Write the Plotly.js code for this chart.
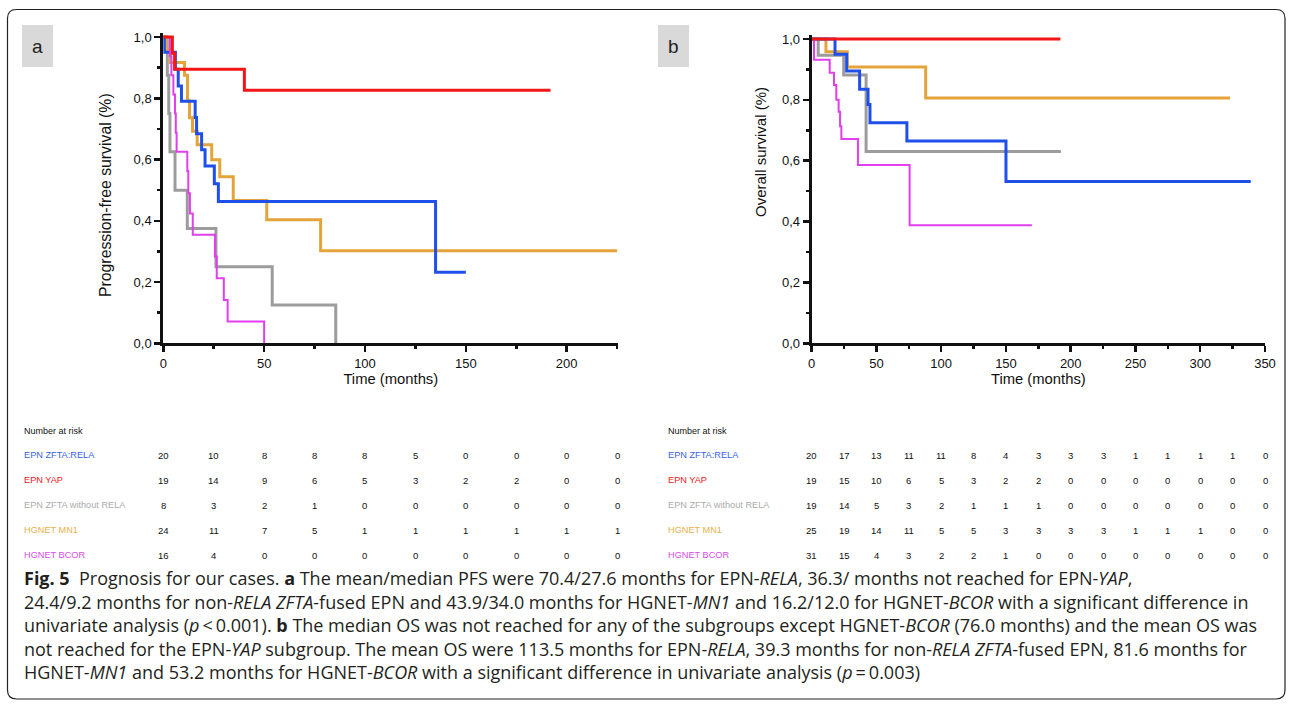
<!DOCTYPE html>
<html>
<head>
<meta charset="utf-8">
<script src="https://cdn.plot.ly/plotly-3.0.1.min.js"></script>
<style>html,body{margin:0;padding:0;background:#fff;}#chart{width:1292px;height:706px;}</style>
</head>
<body>
<div id="chart"></div>
<script>
// ---------- DATA ----------
const groupNames = ["EPN ZFTA:RELA", "EPN YAP", "EPN ZFTA without RELA", "HGNET MN1", "HGNET BCOR"];

// Panel a: progression-free survival (months, survival fraction)
const pfsTimeRELA = [0, 0.5, 6, 7.4, 9, 15.8, 16.5, 19, 20.7, 25.3, 27.3, 135, 150];
const pfsSurvRELA = [1, 0.95, 0.895, 0.84, 0.79, 0.737, 0.684, 0.632, 0.579, 0.521, 0.463, 0.232, 0.232];
const pfsTimeYAP = [0, 4.5, 5.6, 40.2, 192];
const pfsSurvYAP = [1, 0.947, 0.895, 0.826, 0.826];
const pfsTimeZFTA = [0, 2.0, 2.7, 3.3, 5.8, 11.9, 26.1, 54, 85.5];
const pfsSurvZFTA = [1, 0.875, 0.75, 0.625, 0.5, 0.375, 0.25, 0.125, 0];
const pfsTimeMN1 = [0, 1.5, 3.5, 10.5, 12, 13, 14.5, 16.8, 24, 28, 34.7, 51.3, 78, 225];
const pfsSurvMN1 = [1, 0.958, 0.917, 0.875, 0.792, 0.736, 0.692, 0.648, 0.599, 0.544, 0.466, 0.403, 0.302, 0.302];
const pfsTimeBCOR = [0, 3.3, 4, 5, 5.8, 6.2, 6.6, 11.9, 12.4, 13.2, 14.6, 25.6, 26.5, 30, 31.9, 50];
const pfsSurvBCOR = [1, 0.9375, 0.875, 0.8125, 0.75, 0.6875, 0.625, 0.5625, 0.49, 0.424, 0.354, 0.283, 0.212, 0.141, 0.071, 0];

// Panel b: overall survival
const osTimeRELA = [0, 18, 27, 37, 43.5, 45, 73.5, 150, 339];
const osSurvRELA = [1, 0.95, 0.895, 0.835, 0.785, 0.725, 0.665, 0.532, 0.532];
const osTimeYAP = [0, 192];
const osSurvYAP = [1, 1];
const osTimeZFTA = [0, 5, 24.7, 42, 192.4];
const osSurvZFTA = [1, 0.947, 0.882, 0.63, 0.63];
const osTimeMN1 = [0, 11, 27.5, 88, 323];
const osSurvMN1 = [1, 0.958, 0.908, 0.806, 0.806];
const osTimeBCOR = [0, 1.8, 13.9, 17.2, 19, 20.8, 21.9, 22.9, 35.7, 75.6, 170];
const osSurvBCOR = [1, 0.932, 0.889, 0.849, 0.80, 0.761, 0.713, 0.671, 0.586, 0.388, 0.388];

// Number at risk
const riskTimesPFS = [0, 25, 50, 75, 100, 125, 150, 175, 200, 225];
const riskPFS_RELA = [20, 10, 8, 8, 8, 5, 0, 0, 0, 0];
const riskPFS_YAP  = [19, 14, 9, 6, 5, 3, 2, 2, 0, 0];
const riskPFS_ZFTA = [8, 3, 2, 1, 0, 0, 0, 0, 0, 0];
const riskPFS_MN1  = [24, 11, 7, 5, 1, 1, 1, 1, 1, 1];
const riskPFS_BCOR = [16, 4, 0, 0, 0, 0, 0, 0, 0, 0];

const riskTimesOS = [0, 25, 50, 75, 100, 125, 150, 175, 200, 225, 250, 275, 300, 325, 350];
const riskOS_RELA = [20, 17, 13, 11, 11, 8, 4, 3, 3, 3, 1, 1, 1, 1, 0];
const riskOS_YAP  = [19, 15, 10, 6, 5, 3, 2, 2, 0, 0, 0, 0, 0, 0, 0];
const riskOS_ZFTA = [19, 14, 5, 3, 2, 1, 1, 1, 0, 0, 0, 0, 0, 0, 0];
const riskOS_MN1  = [25, 19, 14, 11, 5, 5, 3, 3, 3, 3, 1, 1, 1, 0, 0];
const riskOS_BCOR = [31, 15, 4, 3, 2, 2, 1, 0, 0, 0, 0, 0, 0, 0, 0];

const captionLines = [
  "<b>Fig. 5</b>&nbsp; Prognosis for our cases. <b>a</b> The mean/median PFS were 70.4/27.6 months for EPN-<i>RELA</i>, 36.3/ months not reached for EPN-<i>YAP</i>,",
  "24.4/9.2 months for non-<i>RELA ZFTA</i>-fused EPN and 43.9/34.0 months for HGNET-<i>MN1</i> and 16.2/12.0 for HGNET-<i>BCOR</i> with a significant difference in",
  "univariate analysis (<i>p</i>&#8201;&lt;&#8201;0.001). <b>b</b> The median OS was not reached for any of the subgroups except HGNET-<i>BCOR</i> (76.0 months) and the mean OS was",
  "not reached for the EPN-<i>YAP</i> subgroup. The mean OS were 113.5 months for EPN-<i>RELA</i>, 39.3 months for non-<i>RELA ZFTA</i>-fused EPN, 81.6 months for",
  "HGNET-<i>MN1</i> and 53.2 months for HGNET-<i>BCOR</i> with a significant difference in univariate analysis (<i>p</i>&#8201;=&#8201;0.003)"
];

// ---------- STYLE ----------
const W = 1292, H = 706;
const px = x => x / W;
const py = y => 1 - y / H;
const lineColors = ["#1f4fea", "#f21616", "#9c9c9c", "#e5a43a", "#e23ef0"];
const labelColors = ["#3462ea", "#ee2020", "#ababab", "#e9b04a", "#d94cec"];
const lineWidths = [3, 3, 3, 3, 2];
const axFamily = "Liberation Sans, Arial, sans-serif";
const axFont = {family: axFamily, size: 13, color: "#111"};
const tblFont = "Liberation Sans, Arial, sans-serif";
const yTop = 1.012; // small headroom so lines at 1.0 are not clipped

const pfsSeries = [[pfsTimeRELA, pfsSurvRELA], [pfsTimeYAP, pfsSurvYAP], [pfsTimeZFTA, pfsSurvZFTA], [pfsTimeMN1, pfsSurvMN1], [pfsTimeBCOR, pfsSurvBCOR]];
const osSeries = [[osTimeRELA, osSurvRELA], [osTimeYAP, osSurvYAP], [osTimeZFTA, osSurvZFTA], [osTimeMN1, osSurvMN1], [osTimeBCOR, osSurvBCOR]];
const riskPFS = [riskPFS_RELA, riskPFS_YAP, riskPFS_ZFTA, riskPFS_MN1, riskPFS_BCOR];
const riskOS = [riskOS_RELA, riskOS_YAP, riskOS_ZFTA, riskOS_MN1, riskOS_BCOR];

const drawOrder = [2, 3, 0, 4, 1];
const traces = [];
drawOrder.forEach(i => {
  traces.push({x: pfsSeries[i][0], y: pfsSeries[i][1], type: "scatter", mode: "lines", name: groupNames[i],
    line: {shape: "hv", color: lineColors[i], width: lineWidths[i]}, xaxis: "x", yaxis: "y",
    hoverinfo: "skip", showlegend: false});
});
drawOrder.forEach(i => {
  traces.push({x: osSeries[i][0], y: osSeries[i][1], type: "scatter", mode: "lines", name: groupNames[i],
    line: {shape: "hv", color: lineColors[i], width: lineWidths[i]}, xaxis: "x2", yaxis: "y2",
    hoverinfo: "skip", showlegend: false});
});

function xAxis(domain, range, anchor) {
  return {
    domain: domain, range: range, anchor: anchor, showline: true, linewidth: 3, linecolor: "#111",
    ticks: "outside", tick0: 0, dtick: 50, ticklen: 6, tickwidth: 2.5, tickcolor: "#111",
    minor: {ticks: "outside", dtick: 25, ticklen: 3, tickwidth: 2.5, tickcolor: "#111", showgrid: false},
    showgrid: false, zeroline: false, tickfont: axFont, fixedrange: true,
    title: {text: "Time (months)", font: {family: axFamily, size: 14.8, color: "#111"}, standoff: 4}
  };
}
function yAxis(domain, anchor) {
  return {
    domain: domain, range: [0, yTop], anchor: anchor, showline: true, linewidth: 3, linecolor: "#111",
    ticks: "outside", tick0: 0, dtick: 0.2, ticklen: 6, tickwidth: 2.5, tickcolor: "#111", tickformat: ".1f",
    minor: {ticks: "outside", dtick: 0.1, ticklen: 3, tickwidth: 2.5, tickcolor: "#111", showgrid: false},
    showgrid: false, zeroline: false, tickfont: axFont, fixedrange: true
  };
}

const annotations = [];
const shapes = [];

// y-axis titles
annotations.push({text: "Progression-free survival (%)", xref: "paper", yref: "paper", x: px(106), y: py(195),
  xanchor: "center", yanchor: "middle", textangle: -90, showarrow: false,
  font: {family: axFamily, size: 15.8, color: "#111"}});
annotations.push({text: "Overall survival (%)", xref: "paper", yref: "paper", x: px(760), y: py(152),
  xanchor: "center", yanchor: "middle", textangle: -90, showarrow: false,
  font: {family: axFamily, size: 15, color: "#111"}});

// panel labels
[[22, "a"], [658, "b"]].forEach(([x0, lab]) => {
  shapes.push({type: "rect", xref: "paper", yref: "paper", x0: px(x0), x1: px(x0 + 31), y0: py(67), y1: py(25),
    fillcolor: "#d9d9d9", line: {width: 0}, layer: "below"});
  annotations.push({text: lab, xref: "paper", yref: "paper", x: px(x0 + 15.5), y: py(46), xanchor: "center", yanchor: "middle",
    showarrow: false, font: {family: axFamily, size: 19, color: "#222"}});
});

// number at risk tables
const headerY = 431;
const rowY = [455, 480, 505, 530, 555];
function addTable(labelX, xref, times, risk) {
  annotations.push({text: "Number at risk", xref: "paper", yref: "paper", x: px(labelX), y: py(headerY),
    xanchor: "left", yanchor: "middle", showarrow: false, font: {family: tblFont, size: 9, color: "#111"}});
  groupNames.forEach((g, r) => {
    annotations.push({text: g, xref: "paper", yref: "paper", x: px(labelX), y: py(rowY[r]),
      xanchor: "left", yanchor: "middle", showarrow: false, font: {family: tblFont, size: 9.2, color: labelColors[r]}});
    risk[r].forEach((v, c) => {
      annotations.push({text: String(v), xref: xref, yref: "paper", x: times[c], y: py(rowY[r]),
        xanchor: "center", yanchor: "middle", showarrow: false, font: {family: tblFont, size: 9.5, color: "#111"}});
    });
  });
}
addTable(22, "x", riskTimesPFS, riskPFS);
addTable(666, "x2", riskTimesOS, riskOS);

// caption
const capY = [578, 601.5, 625, 648.5, 672];
captionLines.forEach((t, i) => {
  annotations.push({text: t, xref: "paper", yref: "paper", x: px(22), y: py(capY[i]), xanchor: "left", yanchor: "middle",
    showarrow: false, align: "left", font: {family: "Open Sans, Noto Sans, sans-serif", size: 18, color: "#231f20"}});
});

// outer rounded frame
(function () {
  const l = 7.5, t = 9.5, r = 1285, b = 699, rad = 9;
  const P = (x, y) => px(x) + "," + py(y);
  const d = "M" + P(l + rad, t) + " L" + P(r - rad, t) + " Q" + P(r, t) + " " + P(r, t + rad) +
    " L" + P(r, b - rad) + " Q" + P(r, b) + " " + P(r - rad, b) + " L" + P(l + rad, b) +
    " Q" + P(l, b) + " " + P(l, b - rad) + " L" + P(l, t + rad) + " Q" + P(l, t) + " " + P(l + rad, t) + " Z";
  shapes.push({type: "path", xref: "paper", yref: "paper", path: d, line: {color: "#222", width: 1.2}, fillcolor: "rgba(0,0,0,0)", layer: "below"});
})();

// plot boxes: y=1.0 lies at these pixel rows; domain top extended for headroom
const aTop = 37, bTop = 39, bottom = 343.3;
const aScale = (bottom - aTop), bScale = (bottom - bTop);

const layout = {
  width: W, height: H, margin: {l: 0, r: 0, t: 0, b: 0},
  paper_bgcolor: "#fff", plot_bgcolor: "rgba(0,0,0,0)", separators: ",.", showlegend: false,
  xaxis: xAxis([px(163.3), px(618.3)], [0, 225.6], "y"),
  yaxis: yAxis([py(bottom), py(bottom - aScale * yTop)], "x"),
  xaxis2: xAxis([px(811.7), px(1265)], [0, 350], "y2"),
  yaxis2: yAxis([py(bottom), py(bottom - bScale * yTop)], "x2"),
  annotations: annotations, shapes: shapes
};

Plotly.newPlot("chart", traces, layout, {displayModeBar: false, staticPlot: true});
</script>
</body>
</html>
